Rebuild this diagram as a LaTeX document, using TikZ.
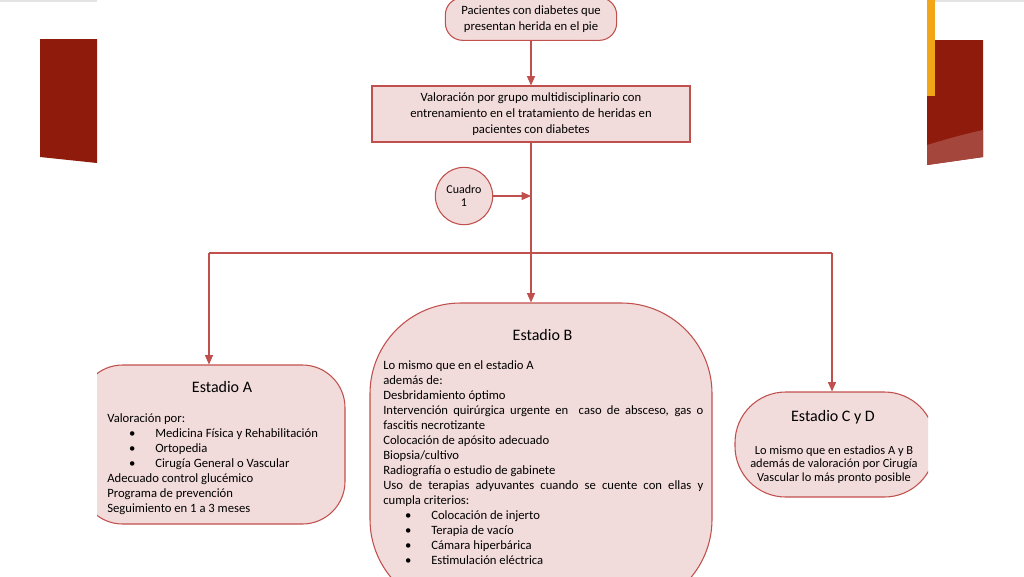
\documentclass[tikz,border=0pt]{standalone}
\usepackage{fontspec}
\setmainfont{Carlito}
\usetikzlibrary{positioning,arrows.meta}

\definecolor{boxfill}{HTML}{F2DCDB}
\definecolor{boxline}{HTML}{C0504D}
\definecolor{slidered}{HTML}{8E1B0C}
\definecolor{slidelight}{HTML}{A4463C}
\definecolor{slideorange}{HTML}{F2A516}
\definecolor{slidegray}{HTML}{E3E3E3}

% bullet line inside a stage box
\newcommand{\bitem}[1]{\hspace*{13.75pt}\makebox[10pt][c]{\textbullet}\hspace*{12.25pt}#1}

\begin{document}
\begin{tikzpicture}[x=0.75pt,y=-0.75pt,
  every node/.style={font=\fontsize{9.5}{11.25}\selectfont,inner sep=0pt},
  shapebox/.style={draw=boxline,fill=boxfill,line width=0.8pt},
  link/.style={draw=boxline,line width=0.8pt},
  arr/.style={link,-{Triangle[length=7pt,width=6pt]}},
  title/.style={font=\fontsize{12}{14}\selectfont}]

\useasboundingbox (0,0) rectangle (1024,576);

% slide background
\fill[slidegray] (0,0) rectangle (97,2);
\fill[slidegray] (935,0) rectangle (1024,2);
\fill[slidered] (40,39) -- (97,39) -- (97,163) -- (40,157) -- cycle;
\fill[slidered] (927,40) -- (983,40) -- (983,157) -- (927,165) -- cycle;
\fill[slidelight] (927,145) .. controls (950,138) and (965,134) .. (983,130) -- (983,157) -- (927,165) -- cycle;
\fill[slideorange] (927,0) rectangle (935,96);

\begin{scope}
\clip (97,0) rectangle (928,576);

% flow
\node[shapebox,rounded corners=13pt,minimum width=128.5pt,minimum height=32pt,
  align=center,font=\fontsize{9.5}{12.5}\selectfont] (pac) at (531,19)
  {Pacientes con diabetes que\\presentan herida en el pie};
\node[shapebox,minimum width=238.5pt,minimum height=42pt,align=center,
  font=\fontsize{9.5}{12}\selectfont] (val) at (531,114)
  {Valoración por grupo multidisciplinario con\\entrenamiento en el tratamiento de heridas en\\pacientes con diabetes};
\node[shapebox,circle,minimum size=43pt,align=center,
  font=\fontsize{9}{9.5}\selectfont] (cua) at (464,196) {Cuadro\\1};

\node[shapebox,rounded corners=32pt,minimum width=198.75pt,minimum height=119.25pt] (stA) at (212.5,444.5) {};
\node[shapebox,rounded corners=68pt,minimum width=256.5pt,minimum height=230.25pt] (stB) at (541,456.5) {};
\node[shapebox,rounded corners=38pt,minimum width=150pt,minimum height=78.75pt] (stC) at (835,444.5) {};

\coordinate (j) at (531,253);
\coordinate (jA) at (209,253);
\coordinate (jC) at (832,253);

\draw[arr] (pac.south) -- (val.north);
\draw[link] (val.south) -- (j);
\draw[arr] (cua.east) -- (cua.east -| j);
\draw[link] (jA) -- (jC);
\draw[arr] (jA) -- (jA |- stA.north);
\draw[arr] (j) -- (j |- stB.north);
\draw[arr] (jC) -- (jC |- stC.north);

% Estadio A
\node[title] (tA) at (222,387) {Estadio A};
\node[anchor=north west,align=left] (txA) at (107,413) {Valoración por:\\
  \bitem{Medicina Física y Rehabilitación}\\
  \bitem{Ortopedia}\\
  \bitem{Cirugía General o Vascular}\\
  Adecuado control glucémico\\
  Programa de prevención\\
  Seguimiento en 1 a 3 meses};

% Estadio B
\node[title] (tB) at (542.5,335) {Estadio B};
\node[anchor=north west,align=left] (txB) at (383,360) {Lo mismo que en el estadio A\\
  además de:\\
  Desbridamiento óptimo\\
  \makebox[240pt][s]{Intervención quirúrgica urgente en \ caso de absceso, gas o}\\
  fascitis necrotizante\\
  Colocación de apósito adecuado\\
  Biopsia/cultivo\\
  Radiografía o estudio de gabinete\\
  \makebox[240pt][s]{Uso de terapias adyuvantes cuando se cuente con ellas y}\\
  cumpla criterios:\\
  \bitem{Colocación de injerto}\\
  \bitem{Terapia de vacío}\\
  \bitem{Cámara hiperbárica}\\
  \bitem{Estimulación eléctrica}};

% Estadio C y D
\node[title] (tC) at (833,417) {Estadio C y D};
\node[align=center,font=\fontsize{9.3}{9.9}\selectfont] (txC) at (834,464.5)
  {Lo mismo que en estadios A y B\\además de valoración por Cirugía\\Vascular lo más pronto posible};
\end{scope}
\end{tikzpicture}
\end{document}
